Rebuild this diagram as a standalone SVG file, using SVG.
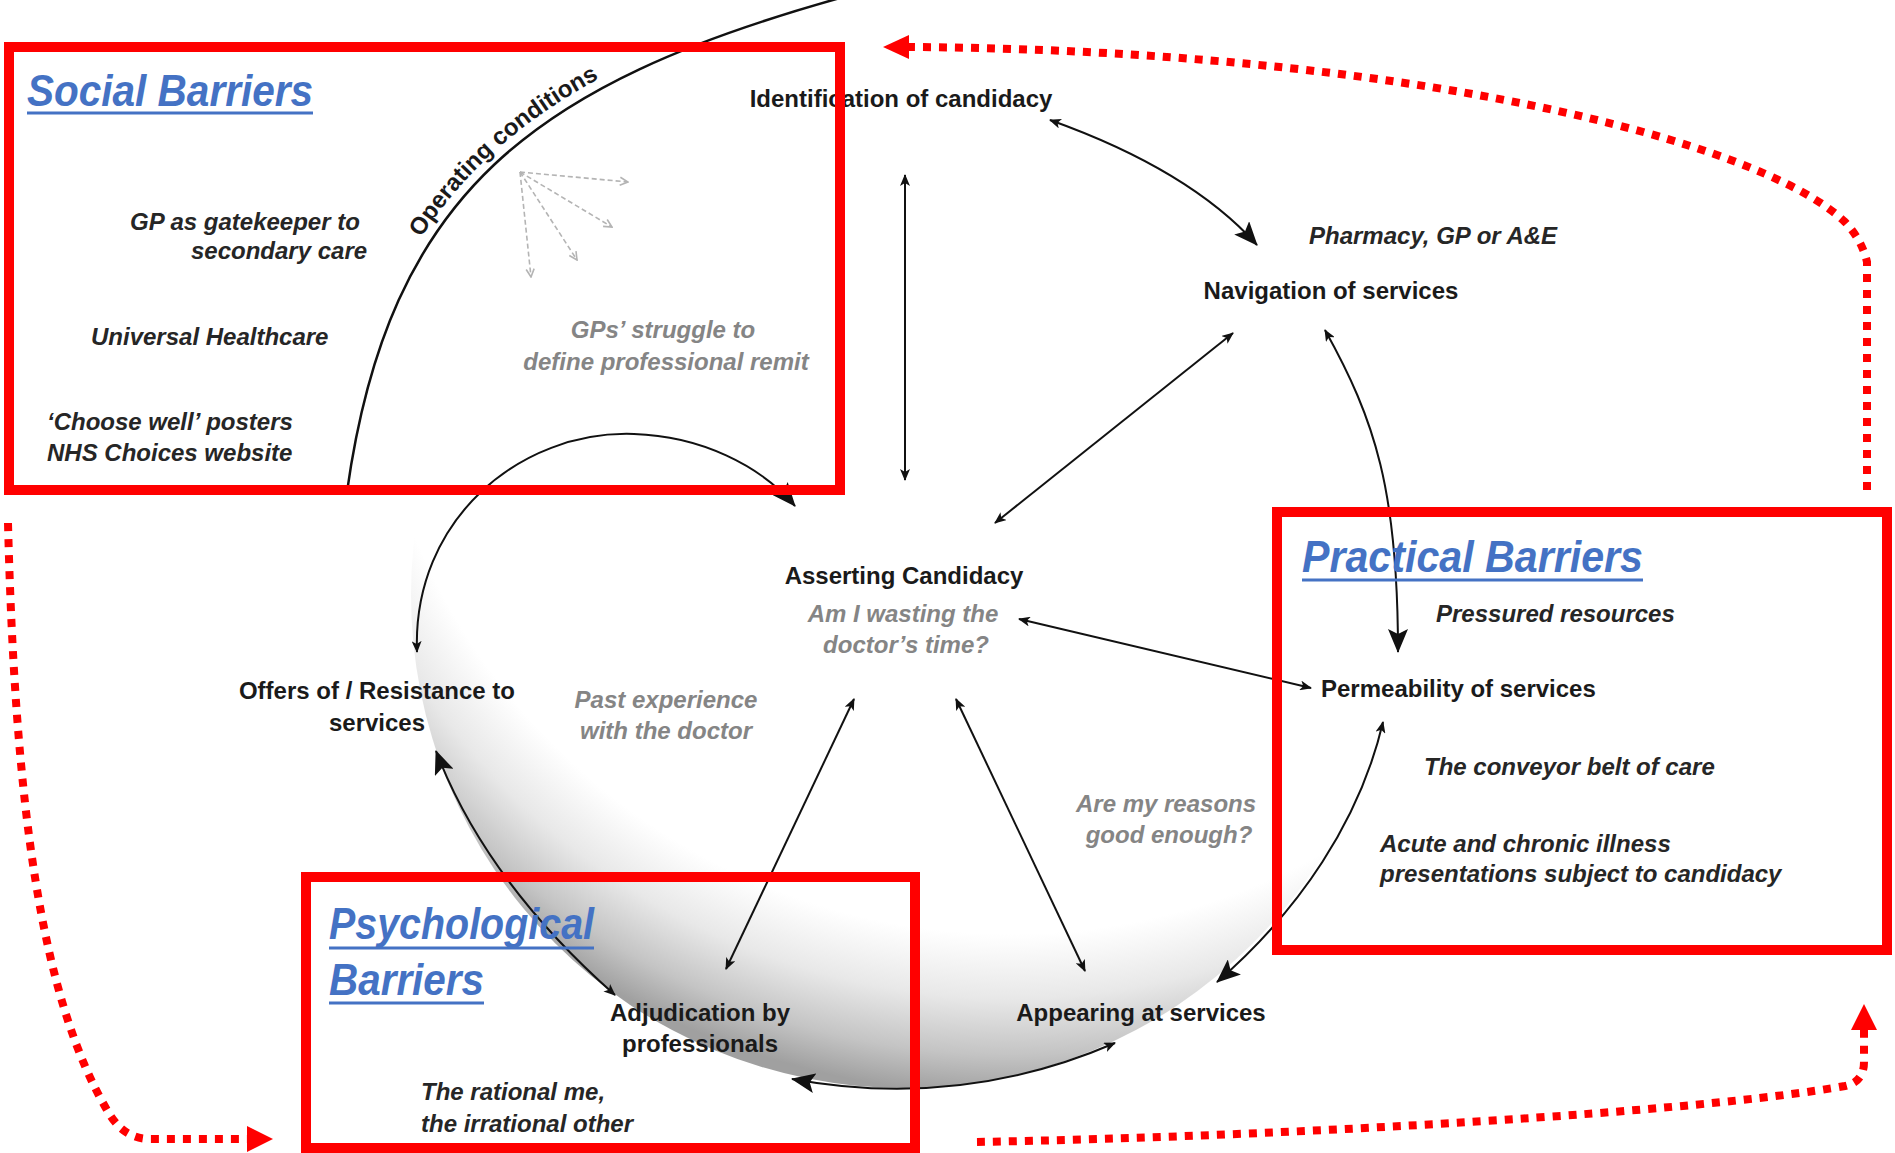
<svg xmlns="http://www.w3.org/2000/svg" width="1895" height="1153" viewBox="0 0 1895 1153">
<style>
.lbl{font-family:"Liberation Sans",Arial,sans-serif;font-size:24px;font-weight:bold;fill:#1a1a1a}
.it{font-family:"Liberation Sans",Arial,sans-serif;font-size:24px;font-weight:bold;font-style:italic;fill:#262626}
.gr{font-family:"Liberation Sans",Arial,sans-serif;font-size:24px;font-weight:bold;font-style:italic;fill:#858585}
.ttl{font-family:"Liberation Sans Narrow","Liberation Sans",Arial,sans-serif;font-size:44px;font-weight:bold;font-style:italic;fill:#4472C4}
.ul{stroke:#4472C4;stroke-width:3}
.box{fill:none;stroke:#FF0000;stroke-width:10}
.dot{fill:none;stroke:#FF0000;stroke-width:8;stroke-dasharray:8 8}
.redhead{fill:#FF0000}
.conn{fill:none;stroke:#111;stroke-width:2}
.gd{fill:none;stroke:#b4b4b4;stroke-width:1.6;stroke-dasharray:5 3}
</style>
<defs>
<radialGradient id="sphere" gradientUnits="userSpaceOnUse" cx="1010" cy="290" r="805">
<stop offset="0.8" stop-color="#ffffff"/>
<stop offset="0.88" stop-color="#e8e8e8"/>
<stop offset="0.95" stop-color="#c4c4c4"/>
<stop offset="1" stop-color="#a0a0a0"/>
</radialGradient>
<marker id="ah-s" viewBox="0 0 12 10" refX="11" refY="5" markerWidth="12" markerHeight="10" markerUnits="userSpaceOnUse" orient="auto-start-reverse"><path d="M0,0 L12,5 L0,10 L3,5 z" fill="#111"/></marker>
<marker id="ah-b" viewBox="0 0 24 20" refX="23" refY="10" markerWidth="24" markerHeight="20" markerUnits="userSpaceOnUse" orient="auto-start-reverse"><path d="M0,0 L24,10 L0,20 L5,10 z" fill="#111"/></marker>
<marker id="ah-g" viewBox="0 0 10 10" refX="9" refY="5" markerWidth="10" markerHeight="10" markerUnits="userSpaceOnUse" orient="auto"><path d="M1,1 L9,5 L1,9" fill="none" stroke="#b4b4b4" stroke-width="1.6"/></marker>
<path id="ocPath" d="M337,488 C380,188 528,75 837,-12"/>
</defs>

<rect x="0" y="0" width="1895" height="1153" fill="#ffffff"/>

<!-- shaded sphere -->
<circle id="sphere-bg" cx="904" cy="595" r="493" fill="url(#sphere)"/>

<!-- operating conditions arc -->
<g id="operating-conditions">
<path d="M347,492 C389,192 533,84 840,-2" fill="none" stroke="#111" stroke-width="2.5"/>
<text class="lbl"><textPath href="#ocPath" startOffset="266">Operating conditions</textPath></text>
</g>

<g id="connectors">
<path class="conn" d="M905,175 L905,480" marker-start="url(#ah-s)" marker-end="url(#ah-s)"/>
<path class="conn" d="M1050,120 Q1190,170 1257,245" marker-start="url(#ah-s)" marker-end="url(#ah-b)"/>
<path class="conn" d="M1233,333 L995,523" marker-start="url(#ah-s)" marker-end="url(#ah-s)"/>
<path class="conn" d="M1325,330 C1375,420 1398,490 1398,652" marker-start="url(#ah-s)" marker-end="url(#ah-b)"/>
<path class="conn" d="M1019,619 L1311,688" marker-start="url(#ah-s)" marker-end="url(#ah-s)"/>
<path class="conn" d="M854,699 L726,969" marker-start="url(#ah-s)" marker-end="url(#ah-s)"/>
<path class="conn" d="M956,699 L1085,971" marker-start="url(#ah-s)" marker-end="url(#ah-s)"/>
<path class="conn" d="M1383,722 C1360,820 1300,910 1217,982" marker-start="url(#ah-s)" marker-end="url(#ah-b)"/>
<path class="conn" d="M1115,1043 Q960,1110 792,1079" marker-start="url(#ah-s)" marker-end="url(#ah-b)"/>
<path class="conn" d="M615,995 C530,920 470,840 436,751" marker-start="url(#ah-s)" marker-end="url(#ah-b)"/>
<path class="conn" d="M417,652 C412,520 520,430 634,434 C700,436 760,465 795,506" marker-start="url(#ah-s)" marker-end="url(#ah-b)"/>
<path class="gd" d="M520,172 L628,182" marker-end="url(#ah-g)"/>
<path class="gd" d="M520,172 L612,227" marker-end="url(#ah-g)"/>
<path class="gd" d="M520,172 L577,260" marker-end="url(#ah-g)"/>
<path class="gd" d="M520,172 L531,277" marker-end="url(#ah-g)"/>
</g>

<g id="node-identification"><text class="lbl" x="901" y="107" text-anchor="middle">Identification of candidacy</text></g>
<g id="node-navigation"><text class="lbl" x="1331" y="299" text-anchor="middle">Navigation of services</text>
<text class="it" x="1309" y="244">Pharmacy, GP or A&amp;E</text></g>
<g id="node-asserting"><text class="lbl" x="904" y="584" text-anchor="middle">Asserting Candidacy</text>
<text class="gr" x="903" y="622" text-anchor="middle">Am I wasting the</text>
<text class="gr" x="906" y="653" text-anchor="middle">doctor’s time?</text></g>
<g id="node-offers"><text class="lbl" x="377" y="699" text-anchor="middle">Offers of / Resistance to</text>
<text class="lbl" x="377" y="731" text-anchor="middle">services</text></g>
<g id="note-past"><text class="gr" x="666" y="708" text-anchor="middle">Past experience</text>
<text class="gr" x="666" y="739" text-anchor="middle">with the doctor</text></g>
<g id="node-adjudication"><text class="lbl" x="700" y="1021" text-anchor="middle">Adjudication by</text>
<text class="lbl" x="700" y="1052" text-anchor="middle">professionals</text></g>
<g id="node-appearing"><text class="lbl" x="1141" y="1021" text-anchor="middle">Appearing at services</text></g>
<g id="note-reasons"><text class="gr" x="1166" y="812" text-anchor="middle">Are my reasons</text>
<text class="gr" x="1169" y="843" text-anchor="middle">good enough?</text></g>
<g id="node-permeability"><text class="lbl" x="1321" y="697">Permeability of services</text></g>
<g id="note-gps"><text class="gr" x="663" y="338" text-anchor="middle">GPs’ struggle to</text>
<text class="gr" x="666" y="370" text-anchor="middle">define professional remit</text></g>

<g id="social-barriers">
<rect class="box" x="9" y="47" width="831" height="443"/>
<text class="ttl" x="27" y="106" textLength="286" lengthAdjust="spacingAndGlyphs">Social Barriers</text>
<line class="ul" x1="27" y1="113" x2="313" y2="113"/>
<text class="it" x="130" y="230">GP as gatekeeper to</text>
<text class="it" x="191" y="259">secondary care</text>
<text class="it" x="91" y="345">Universal Healthcare</text>
<text class="it" x="47" y="430">‘Choose well’ posters</text>
<text class="it" x="47" y="461">NHS Choices website</text>
</g>

<g id="practical-barriers">
<rect class="box" x="1277" y="512" width="610" height="438"/>
<text class="ttl" x="1302" y="572" textLength="341" lengthAdjust="spacingAndGlyphs">Practical Barriers</text>
<line class="ul" x1="1302" y1="580" x2="1643" y2="580"/>
<text class="it" x="1436" y="622">Pressured resources</text>
<text class="it" x="1424" y="775">The conveyor belt of care</text>
<text class="it" x="1380" y="852">Acute and chronic illness</text>
<text class="it" x="1380" y="882">presentations subject to candidacy</text>
</g>

<g id="psychological-barriers">
<rect class="box" x="306" y="877" width="609" height="271"/>
<text class="ttl" x="329" y="939" textLength="265" lengthAdjust="spacingAndGlyphs">Psychological</text>
<line class="ul" x1="329" y1="948" x2="594" y2="948"/>
<text class="ttl" x="329" y="995" textLength="155" lengthAdjust="spacingAndGlyphs">Barriers</text>
<line class="ul" x1="329" y1="1003" x2="484" y2="1003"/>
<text class="it" x="421" y="1100">The rational me,</text>
<text class="it" x="421" y="1132">the irrational other</text>
</g>

<g id="red-links">
<path class="dot" d="M1867,490 L1867,262 Q1862,240 1845,222 C1760,140 1400,50 909,47"/>
<polygon class="redhead" points="883,47 909,35 909,59"/>
<path class="dot" d="M8,523 C15,800 40,1000 110,1115 Q125,1139 150,1139 L247,1139"/>
<polygon class="redhead" points="273,1139 247,1126 247,1152"/>
<path class="dot" d="M977,1142 C1300,1136 1700,1112 1845,1086 Q1864,1082 1864,1062 L1864,1030"/>
<polygon class="redhead" points="1864,1004 1851,1030 1877,1030"/>
</g>
</svg>
